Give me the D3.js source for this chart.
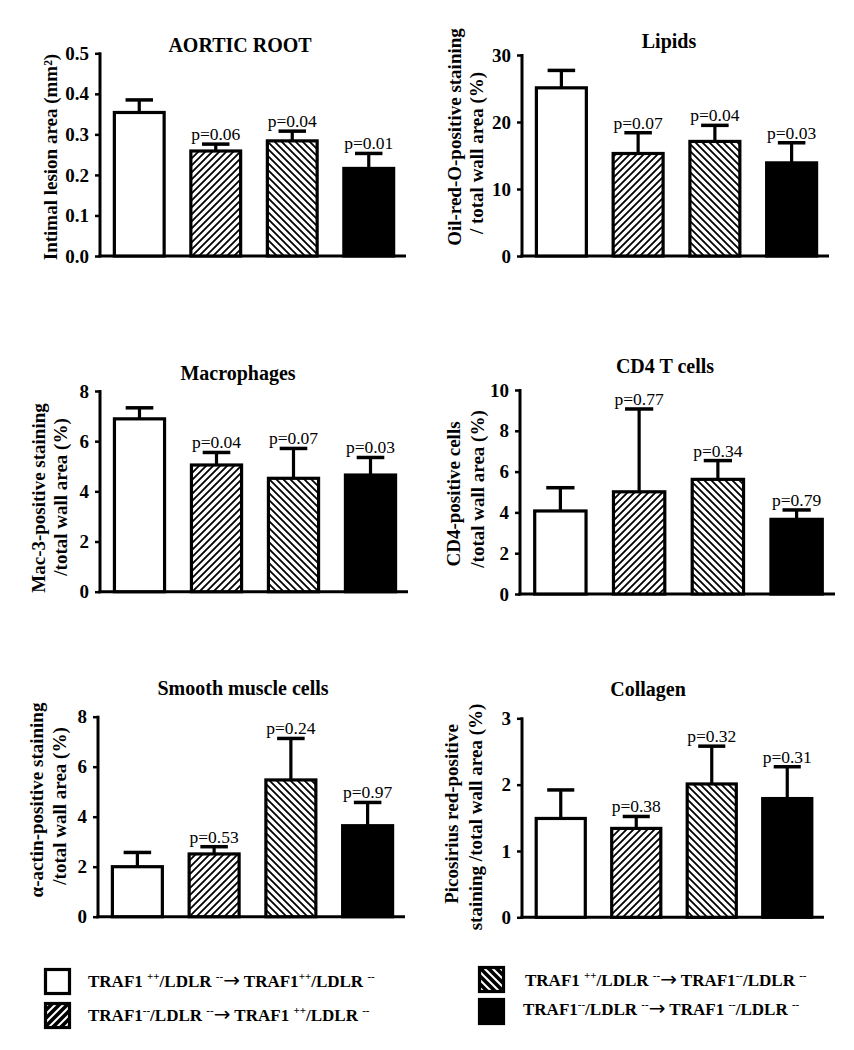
<!DOCTYPE html>
<html>
<head>
<meta charset="utf-8">
<script src="https://cdn.jsdelivr.net/npm/d3@7"></script>
<style>
  html, body { margin: 0; padding: 0; background: #fff; }
  svg { display: block; }
  text { font-family: "Liberation Serif", "Times New Roman", Times, serif; fill: #000; }
</style>
</head>
<body>
<svg id="chart" width="854" height="1050"></svg>
<script>
// ---------- DATA ----------
const groups = ["WT→WT", "KO→WT", "WT→KO", "KO→KO"];

const aorticMean = [0.354, 0.259, 0.284, 0.216];
const aorticErr  = [0.031, 0.017, 0.024, 0.037];
const aorticP    = [null, "p=0.06", "p=0.04", "p=0.01"];
const aorticTicks = [0, 0.1, 0.2, 0.3, 0.4, 0.5];

const lipidsMean = [25.1, 15.3, 17.1, 13.9];
const lipidsErr  = [2.6, 3.1, 2.4, 3.0];
const lipidsP    = [null, "p=0.07", "p=0.04", "p=0.03"];
const lipidsTicks = [0, 10, 20, 30];

const macMean = [6.89, 5.05, 4.52, 4.65];
const macErr  = [0.44, 0.50, 1.19, 0.70];
const macP    = [null, "p=0.04", "p=0.07", "p=0.03"];
const macTicks = [0, 2, 4, 6, 8];

const cd4Mean = [4.07, 5.01, 5.62, 3.66];
const cd4Err  = [1.14, 4.06, 0.92, 0.46];
const cd4P    = [null, "p=0.77", "p=0.34", "p=0.79"];
const cd4Ticks = [0, 2, 4, 6, 8, 10];

const smcMean = [2.00, 2.51, 5.47, 3.64];
const smcErr  = [0.57, 0.29, 1.66, 0.93];
const smcP    = [null, "p=0.53", "p=0.24", "p=0.97"];
const smcTicks = [0, 2, 4, 6, 8];

const collMean = [1.49, 1.34, 2.01, 1.79];
const collErr  = [0.43, 0.18, 0.57, 0.48];
const collP    = [null, "p=0.38", "p=0.32", "p=0.31"];
const collTicks = [0, 1, 2, 3];

// "^" toggles superscript, "|" toggles the arrow glyph
const legendLabels = [
  "TRAF1 ^++^/LDLR ^--^|→| TRAF1^++^/LDLR ^--",
  "TRAF1^--^/LDLR ^--^|→| TRAF1 ^++^/LDLR ^--",
  "TRAF1 ^++^/LDLR ^--^|→| TRAF1^--^/LDLR ^--",
  "TRAF1^--^/LDLR ^--^|→| TRAF1 ^--^/LDLR ^--"
];

// ---------- LAYOUT ----------
const panels = [
  { title: "AORTIC ROOT", mean: aorticMean, err: aorticErr, p: aorticP, ticks: aorticTicks, fmt: ".1f",
    x0: 100, x1: 406, y0: 256, yTop: 53.3, tx: 240, ty: 52,
    labels: [{ t: "Intimal lesion area (mm²)", x: 57, y: 157 }] },
  { title: "Lipids", mean: lipidsMean, err: lipidsErr, p: lipidsP, ticks: lipidsTicks, fmt: "d",
    x0: 522, x1: 829, y0: 256, yTop: 55, tx: 669, ty: 48,
    labels: [{ t: "Oil-red-O-positive staining", x: 461, y: 137 }, { t: "/ total wall area (%)", x: 483, y: 153 }] },
  { title: "Macrophages", mean: macMean, err: macErr, p: macP, ticks: macTicks, fmt: "d",
    x0: 100, x1: 408, y0: 591.7, yTop: 391, tx: 238, ty: 380,
    labels: [{ t: "Mac-3-positive staining", x: 45, y: 498 }, { t: "/total wall area (%)", x: 67, y: 497 }] },
  { title: "CD4 T cells", mean: cd4Mean, err: cd4Err, p: cd4P, ticks: cd4Ticks, fmt: "d",
    x0: 520, x1: 835, y0: 594, yTop: 390, tx: 665, ty: 373,
    labels: [{ t: "CD4-positive cells", x: 460, y: 494 }, { t: "/total wall area (%)", x: 484, y: 489 }] },
  { title: "Smooth muscle cells", mean: smcMean, err: smcErr, p: smcP, ticks: smcTicks, fmt: "d",
    x0: 98, x1: 405, y0: 916.7, yTop: 716.7, tx: 243, ty: 695,
    labels: [{ t: "α-actin-positive staining", x: 43, y: 800 }, { t: "/total wall area (%)", x: 66, y: 806 }] },
  { title: "Collagen", mean: collMean, err: collErr, p: collP, ticks: collTicks, fmt: "d",
    x0: 522, x1: 824, y0: 917.3, yTop: 718.3, tx: 648, ty: 696,
    labels: [{ t: "Picosirius red-positive", x: 458, y: 814 }, { t: "staining /total wall area (%)", x: 482, y: 817 }] }
];

const svg = d3.select("#chart");
const defs = svg.append("defs");

function hatch(id, size, sw, dir, bg) {
  const p = defs.append("pattern").attr("id", id).attr("patternUnits", "userSpaceOnUse")
    .attr("width", size).attr("height", size);
  p.append("rect").attr("width", size).attr("height", size).attr("fill", bg);
  const s = size;
  const d = dir === "fwd"
    ? `M${-s/2},${s/2} L${s/2},${-s/2} M0,${s} L${s},0 M${s/2},${s*1.5} L${s*1.5},${s/2}`
    : `M${-s/2},${s/2} L${s/2},${s*1.5} M0,0 L${s},${s} M${s/2},${-s/2} L${s*1.5},${s/2}`;
  p.append("path").attr("d", d).attr("stroke", "#000").attr("stroke-width", sw).attr("fill", "none");
}
hatch("hatchFwd", 7, 1.8, "fwd", "#fff");
hatch("hatchBack", 7, 1.8, "back", "#fff");
hatch("legFwd", 8, 3.6, "fwd", "#fff");
hatch("legBack", 8, 3.6, "back", "#fff");

const fills = ["#fff", "url(#hatchFwd)", "url(#hatchBack)", "#000"];
const legFills = ["#fff", "url(#legFwd)", "url(#legBack)", "#000"];

panels.forEach(P => {
  const g = svg.append("g");
  const y = d3.scaleLinear().domain([0, d3.max(P.ticks)]).range([P.y0, P.yTop]);
  const x = d3.scaleBand().domain(groups).range([P.x0 + 1, P.x1 + 1]).paddingInner(0.31).paddingOuter(0.155);

  const axis = d3.axisLeft(y).tickValues(P.ticks).tickFormat(d3.format(P.fmt))
    .tickSizeInner(5).tickSizeOuter(0).tickPadding(6);
  const ag = g.append("g").attr("transform", `translate(${P.x0},0)`).call(axis);
  ag.select(".domain").remove();
  ag.selectAll(".tick line").attr("stroke", "#000").attr("stroke-width", 2.5);
  ag.selectAll(".tick text").style("font-family", '"Liberation Serif", "Times New Roman", serif')
    .style("font-weight", "bold").style("font-size", "19px").attr("fill", "#000");
  g.append("line").attr("x1", P.x0).attr("x2", P.x0).attr("y1", P.yTop - 1).attr("y2", P.y0 + 1.5)
    .attr("stroke", "#000").attr("stroke-width", 3);
  g.append("line").attr("x1", P.x0 - 1.5).attr("x2", P.x1).attr("y1", P.y0).attr("y2", P.y0)
    .attr("stroke", "#000").attr("stroke-width", 3);

  const rows = groups.map((k, i) => ({ k, i, m: P.mean[i], e: P.err[i], p: P.p[i] }));

  const capW = x.bandwidth() * 0.52;
  g.selectAll(".err").data(rows).join("line")
    .attr("x1", d => x(d.k) + x.bandwidth() / 2).attr("x2", d => x(d.k) + x.bandwidth() / 2)
    .attr("y1", d => y(d.m)).attr("y2", d => y(d.m + d.e))
    .attr("stroke", "#000").attr("stroke-width", 3.2);
  g.selectAll(".cap").data(rows).join("line")
    .attr("x1", d => x(d.k) + x.bandwidth() / 2 - capW / 2).attr("x2", d => x(d.k) + x.bandwidth() / 2 + capW / 2)
    .attr("y1", d => y(d.m + d.e)).attr("y2", d => y(d.m + d.e))
    .attr("stroke", "#000").attr("stroke-width", 3.5);

  g.selectAll(".bar").data(rows).join("rect")
    .attr("x", d => x(d.k) + 1.5).attr("width", x.bandwidth() - 3)
    .attr("y", d => y(d.m)).attr("height", d => y(0) - y(d.m))
    .attr("fill", d => fills[d.i]).attr("stroke", "#000").attr("stroke-width", 3.2);

  g.selectAll(".pv").data(rows.filter(d => d.p)).join("text")
    .attr("x", d => x(d.k) + x.bandwidth() / 2).attr("y", d => y(d.m + d.e) - 4)
    .attr("text-anchor", "middle").style("font-size", "17.5px").text(d => d.p);

  g.append("text").attr("x", P.tx).attr("y", P.ty).attr("text-anchor", "middle")
    .style("font-size", "20px").style("font-weight", "bold").text(P.title);

  P.labels.forEach(L => {
    g.append("text").attr("transform", `translate(${L.x},${L.y}) rotate(-90)`)
      .attr("text-anchor", "middle").style("font-size", "19px").style("font-weight", "bold").text(L.t);
  });
});

// ---------- LEGEND ----------
const legendPos = [
  { bx: 44, by: 968, tx: 88, ty: 987 },
  { bx: 44, by: 1002, tx: 88, ty: 1021 },
  { bx: 478, by: 966, tx: 525, ty: 986 },
  { bx: 478, by: 998, tx: 523, ty: 1015 }
];
legendLabels.forEach((lab, i) => {
  const L = legendPos[i];
  svg.append("rect").attr("x", L.bx + 1.5).attr("y", L.by + 1.5).attr("width", 24).attr("height", 24)
    .attr("fill", legFills[i]).attr("stroke", "#000").attr("stroke-width", 3.2);
  const t = svg.append("text").attr("x", L.tx).attr("y", L.ty)
    .style("font-size", "17px").style("font-weight", "bold");
  // tokenize
  const tokens = [];
  let buf = "", sup = false, arrow = false;
  for (const ch of lab) {
    if (ch === "^" || ch === "|") {
      if (buf) tokens.push({ s: buf, sup, arrow });
      buf = "";
      if (ch === "^") sup = !sup; else arrow = !arrow;
    } else buf += ch;
  }
  if (buf) tokens.push({ s: buf, sup, arrow });
  let raised = false;
  tokens.forEach(tk => {
    const ts = t.append("tspan").text(tk.s);
    if (tk.sup && !raised) { ts.attr("dy", -7); raised = true; }
    else if (!tk.sup && raised) { ts.attr("dy", 7); raised = false; }
    if (tk.sup) ts.style("font-size", "11px");
    if (tk.arrow) ts.style("font-family", '"DejaVu Sans", sans-serif').style("font-size", "20px").style("font-weight", "normal");
  });
});
</script>
</body>
</html>
